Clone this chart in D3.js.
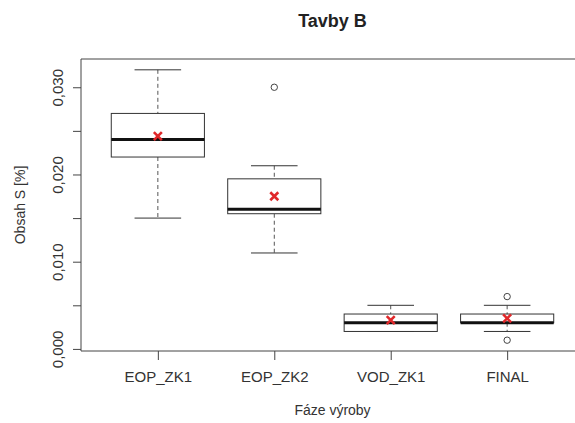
<!DOCTYPE html>
<html>
<head>
<meta charset="utf-8">
<script src="https://cdn.jsdelivr.net/npm/d3@7"></script>
<style>
  body { margin: 0; background: #fff; overflow: hidden; }
  text { font-family: "Liberation Sans", Arial, sans-serif; }
</style>
</head>
<body>
<div id="chart"></div>
<script>
const categories = ["EOP_ZK1", "EOP_ZK2", "VOD_ZK1", "FINAL"];
const whiskerLow = [0.015, 0.011, 0.002, 0.002];
const q1 = [0.022, 0.0155, 0.002, 0.003];
const median = [0.024, 0.016, 0.003, 0.003];
const q3 = [0.027, 0.0195, 0.004, 0.004];
const whiskerHigh = [0.032, 0.021, 0.005, 0.005];
const means = [0.0244, 0.0175, 0.0033, 0.0035];
const outliers = [[], [0.030], [], [0.006, 0.001]];
const yTicks = [0, 0.005, 0.010, 0.015, 0.020, 0.025, 0.030];
const yLabelled = [0, 0.010, 0.020, 0.030];

const width = 575, height = 423;
const margin = { top: 59, right: -9, bottom: 72, left: 81 };
const w = width - margin.left - margin.right;
const h = height - margin.top - margin.bottom;

const svg = d3.select("#chart").append("svg")
    .attr("width", width)
    .attr("height", height)
    .style("display", "block")
    .style("overflow", "hidden");

const g = svg.append("g")
    .attr("transform", "translate(" + margin.left + "," + margin.top + ")");

// R-style ranges: x in [0.5, n+0.5] padded by 4%, y padded by 4%
const x = d3.scaleLinear()
    .domain([0.34, 4.66])
    .range([0, w]);

const yMin = 0.001, yMax = 0.032, pad = (yMax - yMin) * 0.04;
const y = d3.scaleLinear()
    .domain([yMin - pad, yMax + pad])
    .range([h, 0]);

const fmt = v => yLabelled.some(t => Math.abs(t - v) < 1e-9) ? d3.format(".3f")(v).replace(".", ",") : "";

const yAxis = g.append("g")
    .call(d3.axisLeft(y).tickValues(yTicks).tickSize(8).tickPadding(5).tickFormat(fmt));
yAxis.select(".domain").remove();
yAxis.selectAll(".tick line").attr("stroke", "#444");
yAxis.selectAll(".tick text")
    .attr("transform", "rotate(-90)")
    .attr("x", 0).attr("y", -18)
    .attr("dy", 0)
    .attr("text-anchor", "middle")
    .style("font-size", "15px")
    .attr("fill", "#333");

const xAxis = g.append("g")
    .attr("transform", "translate(0," + h + ")")
    .call(d3.axisBottom(x).tickValues([1, 2, 3, 4]).tickSize(9).tickPadding(11)
        .tickFormat((d, i) => categories[i]));
xAxis.select(".domain").remove();
xAxis.selectAll(".tick line").attr("stroke", "#444");
xAxis.selectAll(".tick text").style("font-size", "15px").attr("fill", "#333");

// frame (right side falls outside the picture)
g.append("path")
    .attr("d", `M${w},0H0V${h}H${w}`)
    .attr("fill", "none").attr("stroke", "#444").attr("stroke-width", 1);

const boxes = g.selectAll(".box")
    .data(categories)
    .enter().append("g")
    .attr("class", "box");

const half = x(1.4) - x(1);
const cap = x(1.2) - x(1);

// whiskers
boxes.append("line")
    .attr("x1", (d, i) => x(i + 1)).attr("x2", (d, i) => x(i + 1))
    .attr("y1", (d, i) => y(whiskerHigh[i])).attr("y2", (d, i) => y(q3[i]))
    .attr("stroke", "#555").attr("stroke-dasharray", "4,3");
boxes.append("line")
    .attr("x1", (d, i) => x(i + 1)).attr("x2", (d, i) => x(i + 1))
    .attr("y1", (d, i) => y(q1[i])).attr("y2", (d, i) => y(whiskerLow[i]))
    .attr("stroke", "#555").attr("stroke-dasharray", "4,3");
boxes.append("line")
    .attr("x1", (d, i) => x(i + 1) - cap).attr("x2", (d, i) => x(i + 1) + cap)
    .attr("y1", (d, i) => y(whiskerHigh[i])).attr("y2", (d, i) => y(whiskerHigh[i]))
    .attr("stroke", "#333");
boxes.append("line")
    .attr("x1", (d, i) => x(i + 1) - cap).attr("x2", (d, i) => x(i + 1) + cap)
    .attr("y1", (d, i) => y(whiskerLow[i])).attr("y2", (d, i) => y(whiskerLow[i]))
    .attr("stroke", "#333");

// boxes
boxes.append("rect")
    .attr("x", (d, i) => x(i + 1) - half)
    .attr("width", 2 * half)
    .attr("y", (d, i) => y(q3[i]))
    .attr("height", (d, i) => Math.max(2, y(q1[i]) - y(q3[i])))
    .attr("fill", "#fff").attr("stroke", "#333");

// medians
boxes.append("line")
    .attr("x1", (d, i) => x(i + 1) - half).attr("x2", (d, i) => x(i + 1) + half)
    .attr("y1", (d, i) => y(median[i])).attr("y2", (d, i) => y(median[i]))
    .attr("stroke", "#111").attr("stroke-width", 3);

// outliers
outliers.forEach((vals, i) => {
    g.selectAll(null).data(vals).enter().append("circle")
        .attr("cx", x(i + 1)).attr("cy", d => y(d)).attr("r", 3.2)
        .attr("fill", "none").attr("stroke", "#444");
});

// means
const m = 4;
boxes.append("path")
    .attr("d", (d, i) => {
        const cx = x(i + 1), cy = y(means[i]);
        return `M${cx - m},${cy - m}L${cx + m},${cy + m}M${cx - m},${cy + m}L${cx + m},${cy - m}`;
    })
    .attr("stroke", "#e0282a").attr("stroke-width", 2.6).attr("fill", "none");

// titles
svg.append("text")
    .attr("x", margin.left + x(2.5)).attr("y", 27)
    .attr("text-anchor", "middle")
    .style("font-size", "18px").style("font-weight", "bold")
    .attr("fill", "#222")
    .text("Tavby B");

svg.append("text")
    .attr("x", margin.left + x(2.5)).attr("y", 415)
    .attr("text-anchor", "middle")
    .style("font-size", "14px")
    .attr("fill", "#333")
    .text("Fáze výroby");

svg.append("text")
    .attr("transform", "translate(25," + (margin.top + h / 2) + ")rotate(-90)")
    .attr("text-anchor", "middle")
    .style("font-size", "14px")
    .attr("fill", "#333")
    .text("Obsah S  [%]");
</script>
</body>
</html>
